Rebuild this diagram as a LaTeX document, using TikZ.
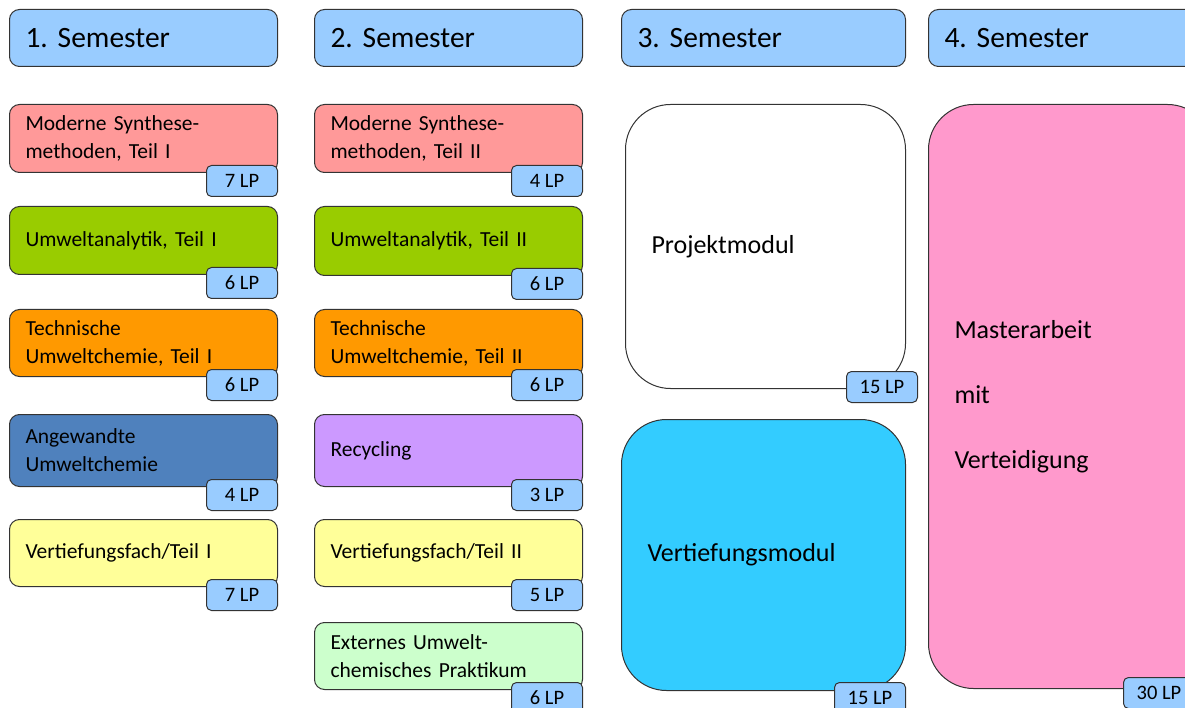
\documentclass[tikz,border=0pt]{standalone}
\usepackage{fontspec}
\setmainfont{Carlito}

\definecolor{kopf}{HTML}{99CCFF}
\definecolor{rot}{HTML}{FF9999}
\definecolor{gruen}{HTML}{99CC00}
\definecolor{orange}{HTML}{FF9900}
\definecolor{blau}{HTML}{4F81BD}
\definecolor{gelb}{HTML}{FFFF99}
\definecolor{lila}{HTML}{CC99FF}
\definecolor{hellgruen}{HTML}{CCFFCC}
\definecolor{tuerkis}{HTML}{33CCFF}
\definecolor{rosa}{HTML}{FF99CC}

\tikzset{
  kasten/.style={draw=black!80, line width=1pt, rounded corners=10pt, anchor=north west, inner xsep=16pt, inner ysep=0pt, align=left},
  semester/.style={kasten, fill=kopf, minimum height=57pt, font=\fontsize{29.5}{30}\selectfont},
  modul/.style={kasten, minimum width=268pt, text width=236pt, font=\fontsize{21.5}{28}\selectfont},
  gross/.style={kasten, rounded corners=45pt, inner xsep=26pt, font=\fontsize{26}{65}\selectfont},
  lp/.style={draw=black!80, line width=1pt, rounded corners=5pt, fill=kopf, anchor=north east, minimum width=71pt, minimum height=31pt, inner sep=0pt, font=\fontsize{20.5}{20.5}\selectfont}
}

\begin{document}
\frenchspacing
\begin{tikzpicture}[x=1pt,y=-1pt]
        \useasboundingbox (0,0) rectangle (1185,708);

        % Semester-Kopfzeilen
        \foreach \x/\w/\tw [count=\s] in {9/268/236, 314/268/236, 621/284/252, 928/284/252}{
          \node[semester, minimum width=\w pt, text width=\tw pt] (sem\s) at (\x,9) {\s. Semester};
        }

        % 1. Semester
        \foreach \y/\h/\farbe/\titel/\punkte [count=\i] in {
            104/68/rot/{Moderne Synthese-\\methoden, Teil I}/7,
            206/68/gruen/{Umweltanalytik, Teil I}/6,
            309/67/orange/{Technische\\Umweltchemie, Teil I}/6,
            414/72/blau/{Angewandte\\Umweltchemie}/4,
            519/67/gelb/{Vertiefungsfach/Teil I}/7}{
          \node[modul, fill=\farbe, minimum height=\h pt] (m1\i) at (9,\y) {\titel};
          \node[lp] (lp1\i) at ([yshift=8pt]m1\i.south east) {\punkte{} LP};
        }

        % 2. Semester
        \foreach \y/\h/\farbe/\titel/\punkte [count=\i] in {
            104/68/rot/{Moderne Synthese-\\methoden, Teil II}/4,
            206/69/gruen/{Umweltanalytik, Teil II}/6,
            309/67/orange/{Technische\\Umweltchemie, Teil II}/6,
            414/72/lila/{Recycling}/3,
            519/67/gelb/{Vertiefungsfach/Teil II}/5,
            622/67/hellgruen/{Externes Umwelt-\\chemisches Praktikum}/6}{
          \node[modul, fill=\farbe, minimum height=\h pt] (m2\i) at (314,\y) {\titel};
          \node[lp] (lp2\i) at ([yshift=8pt]m2\i.south east) {\punkte{} LP};
        }

        % 3. und 4. Semester
        \node[gross, fill=white, minimum width=280pt, text width=228pt, minimum height=284pt] (projekt) at (625,104) {Projektmodul};
        \node[lp] (lp31) at ([xshift=12pt,yshift=18pt]projekt.south east) {15 LP};

        \node[gross, fill=tuerkis, minimum width=284pt, text width=232pt, minimum height=271pt] (vertiefung) at (621,419) {Vertiefungsmodul};
        \node[lp] (lp32) at ([yshift=9pt]vertiefung.south east) {15 LP};

        \node[gross, fill=rosa, minimum width=284pt, text width=232pt, minimum height=584pt] (master) at (928,104) {Masterarbeit\\mit\\Verteidigung};
        \node[lp] (lp41) at ([xshift=-18pt,yshift=12pt]master.south east) {30 LP};
\end{tikzpicture}
\end{document}
